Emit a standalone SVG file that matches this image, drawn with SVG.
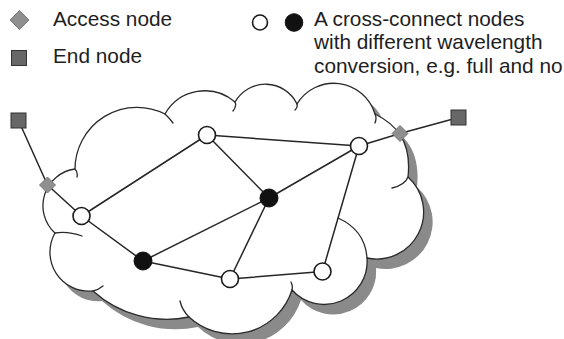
<svg xmlns="http://www.w3.org/2000/svg" width="564" height="339" viewBox="0 0 564 339">
  <style>
    .txt{font-family:"Liberation Sans",Arial,sans-serif;font-size:20.8px;fill:#1e1e1e}
    .edge{stroke:#262626;stroke-width:1.5;fill:none;stroke-linecap:round}
    .open{fill:#fff;stroke:#1a1a1a;stroke-width:1.6}
    .solid{fill:#111;stroke:#111;stroke-width:1}
    .access{fill:#8f8f8f;stroke:#777;stroke-width:1}
    .end{fill:#676767;stroke:#333;stroke-width:1}
    .cloud{fill:#fff;stroke:#2a2a2a;stroke-width:1.3}
    .shadow{fill:#8a8a8a}
    .curl{fill:none;stroke:#2a2a2a;stroke-width:1.3;stroke-linecap:round}
  </style>
  <defs>
    <!-- cloud outline: a ring of bumps drawn clockwise from the upper left -->
    <path id="cloudShape" d="M75 169 A62 62 0 0 1 165 114 A46 46 0 0 1 235 102 A35 35 0 0 1 297 104 A43 43 0 0 1 375 114 C395 124 412 140 408 177 A47 47 0 0 1 367 258 A43 43 0 0 1 292 290 A63 63 0 0 1 189 317 A110 110 0 0 1 93 291 A39 39 0 0 1 55 233 A37 37 0 0 1 75 169 Z"/>
  </defs>

  <!-- legend -->
  <g id="legend-access">
    <path class="access" d="M19.5 10.5 L29 20 L19.5 29.5 L10 20 Z"/>
    <text class="txt" x="53" y="26">Access node</text>
  </g>
  <g id="legend-end">
    <rect class="end" x="11.5" y="50.5" width="15" height="15"/>
    <text class="txt" x="53" y="63">End node</text>
  </g>
  <g id="legend-crossconnect">
    <circle class="open" cx="260" cy="22.5" r="7.5"/>
    <circle class="solid" cx="294" cy="22.5" r="8.8"/>
    <text class="txt" x="314" y="25.5">A cross-connect nodes<tspan x="314" y="49">with different wavelength</tspan><tspan x="314" y="72.5">conversion, e.g. full and no</tspan></text>
  </g>

  <!-- network cloud with drop shadow -->
  <g id="cloud">
    <use href="#cloudShape" class="shadow" transform="translate(9,10)"/>
    <use href="#cloudShape" class="cloud"/>
    <path class="curl" d="M165 114 A62 62 0 0 1 173 123 M235 102 Q237 106 233 111 M297 104 Q298 107 295 110 M375 114 Q377 118 375 123 M408 177 Q405 185 392 188 M367 258 Q365 230 338 218 M292 290 Q293 286 291 282 M189 317 Q182 310 180 301 M93 291 Q98 290 103 286 M55 233 Q68 231 82 236 M75 169 Q78 172 77 177"/>
  </g>

  <!-- links -->
  <g id="connectors">
    <line class="edge" x1="18.5" y1="120.5" x2="47.5" y2="185"/>
    <line class="edge" x1="47.5" y1="185" x2="81.5" y2="216"/>
    <line class="edge" x1="81.5" y1="216" x2="207" y2="135"/>
    <line class="edge" x1="81.5" y1="216" x2="143" y2="261"/>
    <line class="edge" x1="207" y1="135" x2="269" y2="198"/>
    <line class="edge" x1="207" y1="135" x2="359" y2="146"/>
    <line class="edge" x1="269" y1="198" x2="143" y2="261"/>
    <line class="edge" x1="269" y1="198" x2="230" y2="279"/>
    <line class="edge" x1="269" y1="198" x2="359" y2="146"/>
    <line class="edge" x1="143" y1="261" x2="230" y2="279"/>
    <line class="edge" x1="230" y1="279" x2="322.5" y2="271.5"/>
    <line class="edge" x1="322.5" y1="271.5" x2="359" y2="146"/>
    <line class="edge" x1="359" y1="146" x2="400" y2="133.5"/>
    <line class="edge" x1="400" y1="133.5" x2="458.5" y2="117.5"/>
  </g>

  <!-- nodes -->
  <g id="end-left"><rect class="end" x="11" y="113" width="15" height="15"/></g>
  <g id="access-left"><path class="access" d="M47.5 177 L55.5 185 L47.5 193 L39.5 185 Z"/></g>
  <g id="node-a"><circle class="open" cx="81.5" cy="216" r="8.5"/></g>
  <g id="node-b"><circle class="open" cx="207" cy="135" r="8.5"/></g>
  <g id="node-c"><circle class="solid" cx="269" cy="198" r="9"/></g>
  <g id="node-d"><circle class="solid" cx="143" cy="261" r="9"/></g>
  <g id="node-e"><circle class="open" cx="230" cy="279" r="8.5"/></g>
  <g id="node-f"><circle class="open" cx="322.5" cy="271.5" r="8.5"/></g>
  <g id="node-g"><circle class="open" cx="359" cy="146" r="8.5"/></g>
  <g id="access-right"><path class="access" d="M400 125.5 L408 133.5 L400 141.5 L392 133.5 Z"/></g>
  <g id="end-right"><rect class="end" x="451" y="110" width="15" height="15"/></g>
</svg>
